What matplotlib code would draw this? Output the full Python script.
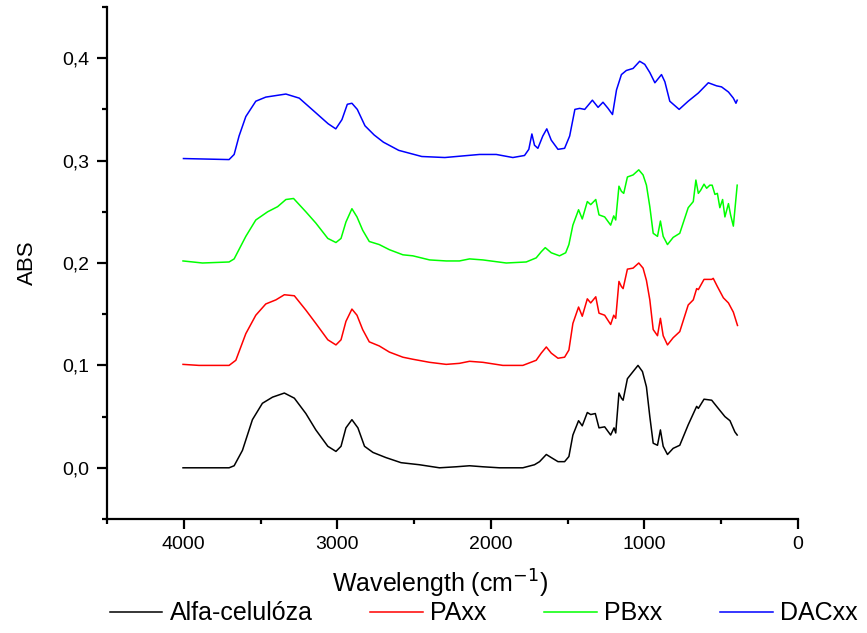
import matplotlib
matplotlib.use("Agg")
import matplotlib.pyplot as plt
from matplotlib.ticker import MultipleLocator, FuncFormatter

plt.rcParams['font.family'] = ['Liberation Sans', 'DejaVu Sans']

labels = ["Alfa-celulóza", "PAxx", "PBxx", "DACxx"]
colors = ["black", "#ff0000", "#00ff00", "#0000ff"]

# Alfa-celulóza
wn_a = [4005, 3705, 3672, 3618, 3553, 3488, 3422, 3345, 3280, 3205, 3140, 3062, 3009, 2976,
        2944, 2905, 2866, 2823, 2768, 2684, 2585, 2466, 2335, 2226, 2139, 2052, 1944, 1792,
        1716, 1683, 1639, 1607, 1563, 1520, 1492, 1466, 1429, 1405, 1372, 1350, 1320, 1296,
        1259, 1220, 1198, 1187, 1166, 1150, 1139, 1111, 1074, 1042, 1013, 987, 965, 943, 915,
        896, 878, 850, 813, 770, 715, 660, 649, 612, 562, 530, 476, 443, 411, 396]
abs_a = [0.000, 0.000, 0.002, 0.017, 0.047, 0.063, 0.069, 0.073, 0.068, 0.053, 0.037, 0.021,
         0.016, 0.021, 0.039, 0.047, 0.039, 0.021, 0.015, 0.010, 0.005, 0.003, 0.000, 0.001,
         0.002, 0.001, 0.000, 0.000, 0.003, 0.006, 0.013, 0.010, 0.006, 0.006, 0.011, 0.032,
         0.046, 0.041, 0.054, 0.052, 0.053, 0.039, 0.040, 0.032, 0.039, 0.034, 0.073, 0.068,
         0.066, 0.087, 0.094, 0.100, 0.094, 0.079, 0.050, 0.024, 0.022, 0.037, 0.021, 0.013,
         0.019, 0.022, 0.042, 0.060, 0.058, 0.067, 0.066, 0.060, 0.050, 0.046, 0.035, 0.032]

# PAxx
wn_pa = [4005, 3901, 3705, 3661, 3596, 3531, 3466, 3400, 3345, 3280, 3205, 3140, 3062, 3009,
         2976, 2944, 2905, 2872, 2835, 2792, 2727, 2661, 2573, 2508, 2399, 2291, 2205, 2139,
         2052, 1922, 1792, 1705, 1672, 1639, 1607, 1563, 1520, 1492, 1466, 1429, 1405, 1372,
         1350, 1317, 1296, 1259, 1220, 1200, 1187, 1166, 1150, 1139, 1111, 1074, 1037, 1009,
         987, 965, 943, 915, 896, 878, 850, 813, 770, 715, 682, 660, 649, 612, 562, 552, 525,
         486, 453, 421, 394]
abs_pa = [0.101, 0.100, 0.100, 0.105, 0.131, 0.149, 0.160, 0.164, 0.169, 0.168, 0.154, 0.141,
          0.125, 0.120, 0.125, 0.143, 0.155, 0.149, 0.135, 0.123, 0.119, 0.113, 0.108, 0.106,
          0.103, 0.101, 0.102, 0.104, 0.103, 0.100, 0.100, 0.105, 0.112, 0.118, 0.112, 0.107,
          0.108, 0.115, 0.141, 0.157, 0.148, 0.165, 0.161, 0.167, 0.151, 0.149, 0.140, 0.149,
          0.146, 0.182, 0.177, 0.175, 0.194, 0.195, 0.200, 0.195, 0.183, 0.164, 0.135, 0.129,
          0.146, 0.129, 0.120, 0.127, 0.133, 0.159, 0.164, 0.175, 0.174, 0.184, 0.184, 0.185,
          0.177, 0.166, 0.161, 0.152, 0.139]

# PBxx
wn_pb = [4005, 3878, 3705, 3672, 3596, 3531, 3454, 3389, 3335, 3285, 3205, 3140, 3062, 3009,
         2976, 2944, 2905, 2872, 2835, 2792, 2727, 2661, 2573, 2508, 2399, 2291, 2205, 2139,
         2052, 1900, 1770, 1705, 1672, 1646, 1607, 1553, 1513, 1492, 1466, 1429, 1405, 1372,
         1350, 1317, 1296, 1259, 1220, 1200, 1187, 1166, 1150, 1135, 1111, 1074, 1037, 1009,
         987, 965, 943, 915, 896, 878, 850, 813, 770, 715, 682, 665, 649, 634, 612, 595, 574,
         559, 541, 525, 509, 491, 476, 453, 439, 421, 411, 396]
abs_pb = [0.202, 0.200, 0.201, 0.204, 0.226, 0.242, 0.250, 0.255, 0.262, 0.263, 0.250, 0.239,
          0.224, 0.220, 0.224, 0.240, 0.253, 0.245, 0.232, 0.221, 0.218, 0.213, 0.208, 0.207,
          0.203, 0.202, 0.202, 0.204, 0.203, 0.200, 0.201, 0.205, 0.211, 0.215, 0.210, 0.207,
          0.210, 0.218, 0.237, 0.252, 0.243, 0.260, 0.257, 0.262, 0.247, 0.245, 0.237, 0.246,
          0.242, 0.275, 0.270, 0.268, 0.284, 0.286, 0.291, 0.286, 0.276, 0.255, 0.229, 0.226,
          0.241, 0.226, 0.218, 0.225, 0.229, 0.254, 0.260, 0.281, 0.268, 0.271, 0.277, 0.273,
          0.276, 0.276, 0.267, 0.268, 0.254, 0.262, 0.245, 0.258, 0.247, 0.236, 0.252, 0.276]

# DACxx
wn_dac = [4002, 3705, 3672, 3640, 3596, 3531, 3466, 3335, 3248, 3150, 3060, 3010, 2970, 2935,
          2905, 2870, 2820, 2760, 2700, 2600, 2450, 2300, 2150, 2074, 1965, 1857, 1781, 1753,
          1733, 1716, 1694, 1662, 1636, 1607, 1563, 1520, 1487, 1453, 1422, 1389, 1339, 1302,
          1270, 1237, 1208, 1182, 1150, 1118, 1074, 1031, 998, 965, 932, 889, 867, 835, 774,
          715, 649, 584, 530, 498, 453, 421, 404, 396]
abs_dac = [0.302, 0.301, 0.306, 0.324, 0.343, 0.358, 0.362, 0.365, 0.361, 0.348, 0.336, 0.331,
           0.340, 0.355, 0.356, 0.350, 0.334, 0.325, 0.318, 0.310, 0.304, 0.303, 0.305, 0.306,
           0.306, 0.303, 0.305, 0.311, 0.326, 0.315, 0.312, 0.324, 0.331, 0.320, 0.311, 0.312,
           0.324, 0.350, 0.351, 0.350, 0.359, 0.352, 0.357, 0.351, 0.345, 0.369, 0.384, 0.388,
           0.390, 0.397, 0.394, 0.386, 0.376, 0.384, 0.377, 0.358, 0.350, 0.358, 0.366, 0.376,
           0.373, 0.372, 0.367, 0.361, 0.356, 0.359]

series = [(wn_a, abs_a), (wn_pa, abs_pa), (wn_pb, abs_pb), (wn_dac, abs_dac)]

fig = plt.figure(figsize=(8.67, 6.33), dpi=100)
ax = fig.add_axes([107/867, 114/633, 691/867, 512/633])

for (x, y), c, lab in zip(series, colors, labels):
    ax.plot(x, y, color=c, lw=1.1, label=lab)

ax.set_xlim(4500, 0)
ax.set_ylim(-0.05, 0.45)
ax.xaxis.set_major_locator(MultipleLocator(1000))
ax.xaxis.set_minor_locator(MultipleLocator(500))
ax.yaxis.set_major_locator(MultipleLocator(0.1))
ax.yaxis.set_minor_locator(MultipleLocator(0.05))
ax.yaxis.set_major_formatter(FuncFormatter(lambda v, p: f"{v:.1f}".replace(".", ",")))

for s in ["top", "right"]:
    ax.spines[s].set_visible(False)
for s in ["left", "bottom"]:
    ax.spines[s].set_linewidth(1.6)

ax.tick_params(which="major", direction="out", length=7.5, width=1.6, labelsize=14, pad=5)
ax.tick_params(which="minor", direction="out", length=3.5, width=1.6)

ax.set_xlabel("Wavelength (cm$^{-1}$)", fontsize=18)
ax.xaxis.set_label_coords(0.482, -0.095)
ax.set_ylabel("ABS", fontsize=16)
ax.yaxis.set_label_coords(-0.10, 0.5)

fig.legend(loc="lower center", bbox_to_anchor=(0.558, 0.0), ncol=4, frameon=False,
           fontsize=18, handlelength=2.1, columnspacing=2.3, handletextpad=0.3,
           borderaxespad=0.0, borderpad=0.3)

fig.savefig("out.png", dpi=100)
